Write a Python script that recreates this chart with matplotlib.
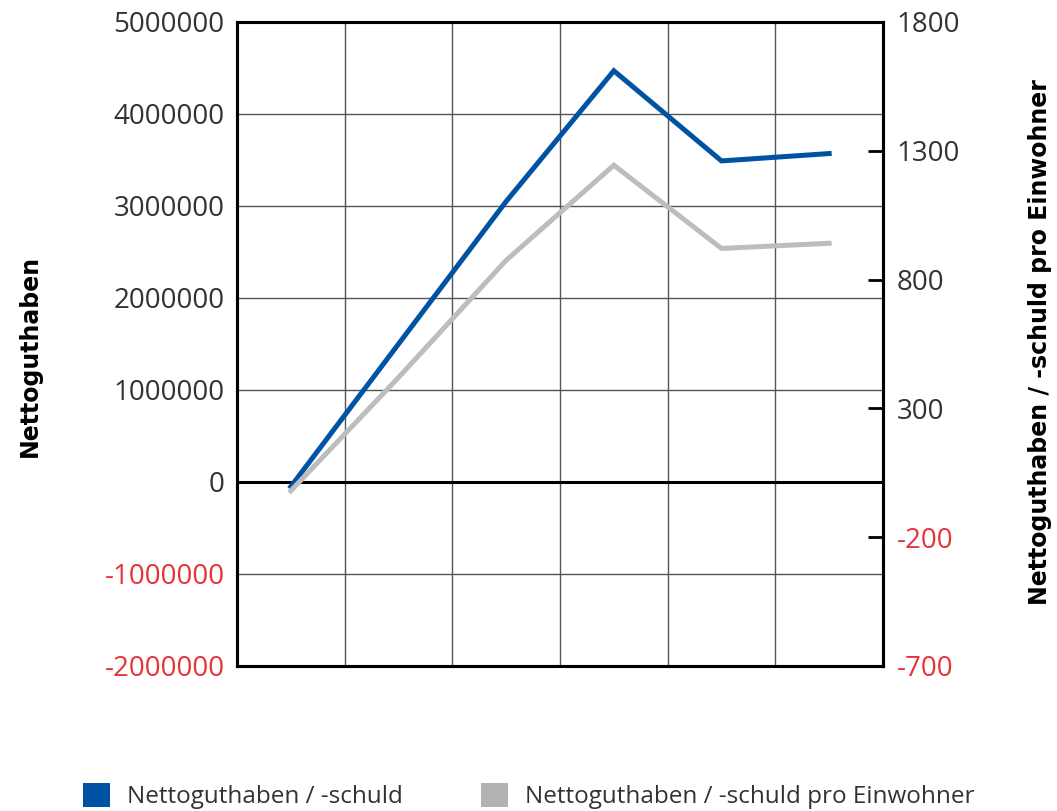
import matplotlib
matplotlib.use("Agg")
import matplotlib.pyplot as plt
from matplotlib.patches import Patch

plt.rcParams['font.family'] = ['Open Sans', 'DejaVu Sans']

# data (6 periods, no x labels shown)
positions = [0, 1, 2, 3, 4, 5]
netto = [-50000, 1500000, 3050000, 4470000, 3490000, 3570000]
netto_pro_einw = [-20, 420, 875, 1244, 921, 941]

left_ticks = [-2000000, -1000000, 0, 1000000, 2000000, 3000000, 4000000, 5000000]
right_ticks = [-700, -200, 300, 800, 1300, 1800]

blue = '#0052A3'
grey = '#BDBDBD'
red = '#E8323C'
txt = '#333333'

fig = plt.figure(figsize=(10.57, 8.11), dpi=100)
ax = fig.add_axes([237 / 1057, 1 - 666 / 811, (883 - 237) / 1057, (666 - 22) / 811])
ax2 = ax.twinx()

ax.set_xlim(-0.5, 5.5)
ax.set_ylim(-2000000, 5000000)
ax2.set_ylim(-700, 1800)

# grid
ax.set_xticks([0.5, 1.5, 2.5, 3.5, 4.5], minor=True)
ax.set_xticks([])
ax.grid(True, which='minor', axis='x', color='#555555', lw=1.0)
ax.set_yticks(left_ticks)
ax.grid(True, which='major', axis='y', color='#555555', lw=1.0)
ax.tick_params(axis='x', which='both', length=0)
ax.axhline(0, color='black', lw=2.2, zorder=2)

ax.plot(positions, netto, color=blue, lw=3.6, solid_joinstyle='miter', zorder=3)
ax2.plot(positions, netto_pro_einw, color=grey, lw=3.6, solid_joinstyle='miter')

ax.set_yticklabels([str(v) for v in left_ticks], fontsize=20)
ax.tick_params(axis='y', length=0, pad=9)
for lab, v in zip(ax.get_yticklabels(), left_ticks):
    lab.set_color(red if v < 0 else txt)

ax2.set_yticks(right_ticks)
ax2.set_yticklabels([str(v) for v in right_ticks], fontsize=20)
ax2.tick_params(axis='y', direction='in', length=11, width=2, pad=10)
for lab, v in zip(ax2.get_yticklabels(), right_ticks):
    lab.set_color(red if v < 0 else txt)

for a in (ax, ax2):
    for s in a.spines.values():
        s.set_linewidth(2.2)
        s.set_color('black')

lab_font = ['Liberation Sans Narrow', 'DejaVu Sans']
fig.text(30 / 1057, 1 - 356 / 811, 'Nettoguthaben', rotation=90, fontsize=17,
         fontweight='bold', family=lab_font, ha='center', va='center')
fig.text(1040 / 1057, 1 - 342 / 811, 'Nettoguthaben / -schuld pro Einwohner', rotation=90,
         fontsize=17, fontweight='bold', family=lab_font, ha='center', va='center')

handles = [Patch(facecolor=blue, edgecolor='none'), Patch(facecolor='#B3B3B3', edgecolor='none')]
fig.legend(handles, ['Nettoguthaben / -schuld', 'Nettoguthaben / -schuld pro Einwohner'],
           loc='lower left', bbox_to_anchor=(83 / 1057, 2 / 811), ncol=2, frameon=False,
           fontsize=17.5, handlelength=1.12, handleheight=1.12, handletextpad=0.7,
           columnspacing=3.2, borderpad=0, borderaxespad=0, labelcolor=txt)

fig.savefig('out.png', dpi=100)
